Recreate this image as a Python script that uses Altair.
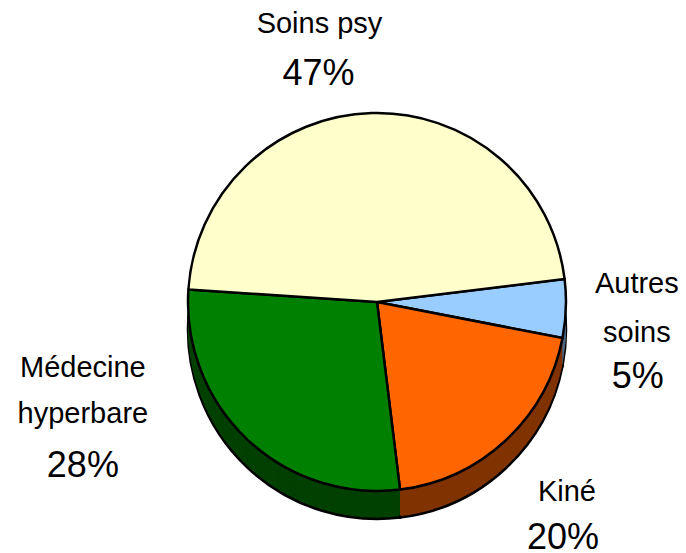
import math
import altair as alt
import pandas as pd

# ---- data ----
categories = ["Autres soins", "Kiné", "Médecine hyperbare", "Soins psy"]
shares = [5, 20, 28, 47]
label_names = ["Autres\nsoins", "Kiné", "Médecine\nhyperbare", "Soins psy"]
label_pcts = ["5%", "20%", "28%", "47%"]

# ---- styling ----
top_colors = ["#99CCFF", "#FF6600", "#008000", "#FFFFCC"]
side_colors = ["#4D6680", "#803300", "#004000", "#808066"]
W, H = 670, 545
CX, CY = 369, 294
R = 189
DEPTH = 28
START = math.radians(83)
FONT = "Liberation Sans"

df = pd.DataFrame({
    "cat": categories,
    "share": shares,
    "name": label_names,
    "pct": label_pcts,
    "ord": list(range(len(categories))),
})

th_scale = alt.Scale(domain=[0, 100], range=[START, START + 2 * math.pi])

base = (
    alt.Chart(df)
    .transform_window(cum="sum(share)", sort=[alt.SortField("ord")], frame=[None, 0])
    .transform_calculate(start="datum.cum - datum.share", mid="datum.cum - datum.share / 2")
)

layers = []
# 3D side: stacked copies shifted downward
offsets = list(range(DEPTH, 0, -2))
for i, off in enumerate(offsets):
    kw = dict(radius=R)
    if i == 0:
        kw.update(stroke="black", strokeWidth=2.5)
    layers.append(
        base.mark_arc(**kw).encode(
            theta=alt.Theta("start:Q", scale=th_scale),
            theta2="cum:Q",
            fill=alt.Fill("cat:N", scale=alt.Scale(domain=categories, range=side_colors), legend=None),
            x=alt.value(CX),
            y=alt.value(CY + off),
        )
    )

# top surface
layers.append(
    base.mark_arc(radius=R, stroke="black", strokeWidth=2.5, strokeJoin="round").encode(
        theta=alt.Theta("start:Q", scale=th_scale),
        theta2="cum:Q",
        color=alt.Color("cat:N", scale=alt.Scale(domain=categories, range=top_colors), legend=None),
        x=alt.value(CX),
        y=alt.value(CY),
    )
)

# label placement (radius from centre, offsets) per category
label_style = {
    "Autres soins": dict(r=260, dx=0, dy=-18, lh=49, pdx=1, pdy=95),
    "Kiné": dict(r=280, dx=-1, dy=-6, lh=49, pdx=-4, pdy=48),
    "Médecine hyperbare": dict(r=300, dx=-88, dy=-143, lh=46, pdx=0, pdy=100),
    "Soins psy": dict(r=269, dx=-50, dy=0, lh=52, pdx=-1, pdy=52),
}

for cat in categories:
    st = label_style[cat]
    f = base.transform_filter(alt.datum.cat == cat)
    layers.append(
        f.mark_text(
            radius=st["r"], dx=st["dx"], dy=st["dy"], align="center", baseline="alphabetic",
            font=FONT, fontSize=29, lineBreak="\n", lineHeight=st["lh"], color="black",
        ).encode(
            theta=alt.Theta("mid:Q", scale=th_scale),
            text="name:N",
            x=alt.value(CX),
            y=alt.value(CY),
        )
    )
    layers.append(
        f.mark_text(
            radius=st["r"], dx=st["dx"] + st["pdx"], dy=st["dy"] + st["pdy"], align="center",
            baseline="alphabetic", font=FONT, fontSize=36, color="black",
        ).encode(
            theta=alt.Theta("mid:Q", scale=th_scale),
            text="pct:N",
            x=alt.value(CX),
            y=alt.value(CY),
        )
    )

chart = (
    alt.layer(*layers)
    .properties(width=W, height=H, padding=0, autosize=alt.AutoSizeParams(type="none"))
    .configure_view(stroke=None)
)

chart.save("out.html", embed_options={"renderer": "svg", "actions": False})
